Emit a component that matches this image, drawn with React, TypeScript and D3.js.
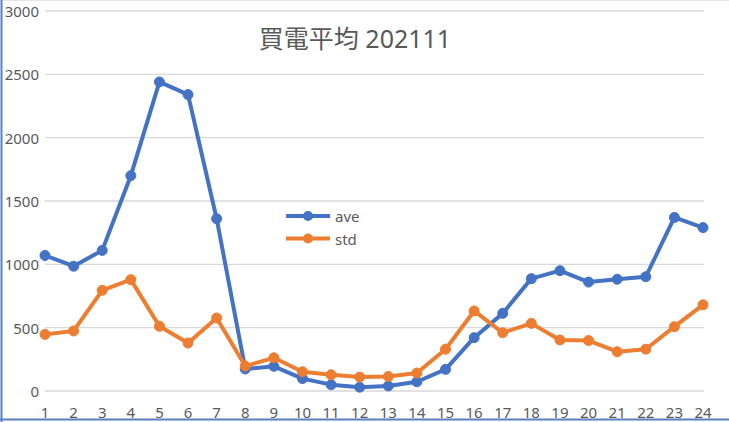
import React from "react";
import * as d3 from "d3";

const hours = ["1","2","3","4","5","6","7","8","9","10","11","12","13","14","15","16","17","18","19","20","21","22","23","24"];
const aveValues = [1070, 985, 1110, 1700, 2440, 2340, 1360, 174, 195, 98, 50, 30, 40, 73, 171, 421, 613, 887, 950, 860, 882, 902, 1370, 1290];
const stdValues = [447, 474, 795, 879, 511, 379, 576, 197, 262, 152, 128, 110, 114, 142, 330, 632, 460, 534, 403, 398, 310, 330, 508, 680];
const yTicks = [0, 500, 1000, 1500, 2000, 2500, 3000];
const seriesNames = ["ave", "std"];
const titleText = "買電平均 202111";

const W = 729;
const H = 422;
const BLUE = "#4472C4";
const ORANGE = "#ED7D31";
const TEXT = "#595959";
const FONT = "'Noto Sans', 'Noto Sans CJK JP', sans-serif";

export default function App() {
  const x = d3.scalePoint<string>().domain(hours).range([45, 703]);
  const y = d3.scaleLinear().domain([0, 3000]).range([391, 11]);
  const line = d3
    .line<number>()
    .x((_, i) => x(hours[i]) as number)
    .y((d) => y(d));

  const series = [
    { name: seriesNames[0], values: aveValues, color: BLUE },
    { name: seriesNames[1], values: stdValues, color: ORANGE },
  ];

  return (
    <div style={{ position: "fixed", left: 0, top: 0 }}>
      <svg width={W} height={H} style={{ display: "block", background: "#fff" }}>
        <rect x={0} y={0} width={W} height={H} fill="#fff" />
        {/* frame */}
        <line x1={0} x2={W} y1={0.5} y2={0.5} stroke="#e6e6e6" strokeWidth={1} />
        <line x1={1.5} x2={1.5} y1={0} y2={H} stroke="#5b7fc0" strokeWidth={2} />
        <line x1={0} x2={W} y1={419.5} y2={419.5} stroke="#5b7fc0" strokeWidth={2} />

        {/* gridlines */}
        {yTicks.map((t) => (
          <line key={t} x1={45} x2={704} y1={y(t)} y2={y(t)} stroke="#d9d9d9" strokeWidth={1.3} />
        ))}
        {/* y labels */}
        {yTicks.map((t) => (
          <text
            key={"yl" + t}
            x={39}
            y={y(t)}
            textAnchor="end"
            dominantBaseline="central"
            fontFamily={FONT}
            fontSize={15}
            fill={TEXT}
          >
            {t}
          </text>
        ))}
        {/* x labels */}
        {hours.map((h) => (
          <text
            key={"xl" + h}
            x={x(h) as number}
            y={412}
            textAnchor="middle"
            dominantBaseline="central"
            fontFamily={FONT}
            fontSize={15}
            fill={TEXT}
          >
            {h}
          </text>
        ))}

        {/* title */}
        <text
          x={355}
          y={38}
          textAnchor="middle"
          dominantBaseline="central"
          fontFamily={FONT}
          fontSize={25}
          fill={TEXT}
        >
          {titleText}
        </text>

        {/* series */}
        {series.map((s) => (
          <g key={s.name}>
            <path d={line(s.values) || ""} fill="none" stroke={s.color} strokeWidth={4} strokeLinejoin="round" strokeLinecap="round" />
            {s.values.map((v, i) => (
              <circle key={i} cx={x(hours[i]) as number} cy={y(v)} r={5} fill={s.color} stroke={s.color} strokeWidth={1} />
            ))}
          </g>
        ))}

        {/* legend */}
        {series.map((s, i) => {
          const ly = 216 + i * 22.5;
          return (
            <g key={"lg" + s.name}>
              <line x1={286} x2={330} y1={ly} y2={ly} stroke={s.color} strokeWidth={4} />
              <circle cx={308} cy={ly} r={5} fill={s.color} />
              <text x={335} y={ly} dominantBaseline="central" fontFamily={FONT} fontSize={15} fill={TEXT}>
                {s.name}
              </text>
            </g>
          );
        })}
      </svg>
    </div>
  );
}
